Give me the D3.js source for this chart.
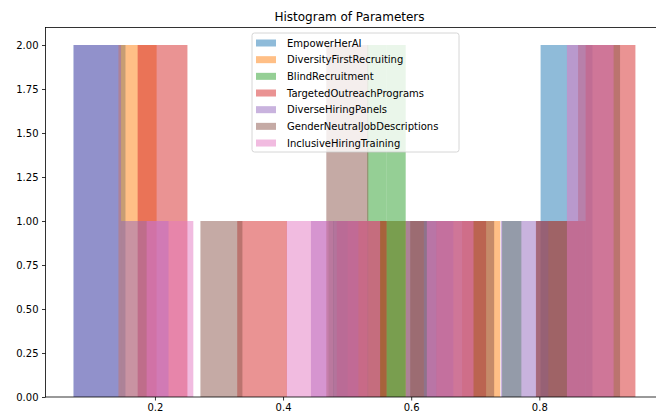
<!DOCTYPE html>
<html>
<head>
<meta charset="utf-8">
<script src="https://cdn.jsdelivr.net/npm/d3@7"></script>
<style>
  html, body { margin: 0; padding: 0; background: #fff; }
  svg { display: block; font-family: "DejaVu Sans", sans-serif; }
</style>
</head>
<body>
<svg id="chart" width="656" height="414"></svg>
<script>
// Parameter samples, one array per hiring initiative
const categories = [
  "EmpowerHerAI",
  "DiversityFirstRecruiting",
  "BlindRecruitment",
  "TargetedOutreachPrograms",
  "DiverseHiringPanels",
  "GenderNeutralJobDescriptions",
  "InclusiveHiringTraining"
];
const empowerHerAI = [0.073, 0.113, 0.518, 0.599, 0.842, 0.883];
const diversityFirstRecruiting = [0.143, 0.173, 0.531, 0.590, 0.739];
const blindRecruitment = [0.471, 0.543, 0.549, 0.573, 0.579, 0.772];
const targetedOutreachPrograms = [0.173, 0.212, 0.367, 0.522, 0.678, 0.833, 0.911, 0.950];
const diverseHiringPanels = [0.073, 0.112, 0.184, 0.480, 0.628, 0.814];
const genderNeutralJobDescriptions = [0.271, 0.486, 0.518, 0.633, 0.699, 0.828, 0.892, 0.926];
const inclusiveHiringTraining = [0.187, 0.446, 0.518, 0.663, 0.880, 0.916];

const seriesValues = [
  empowerHerAI, diversityFirstRecruiting, blindRecruitment, targetedOutreachPrograms,
  diverseHiringPanels, genderNeutralJobDescriptions, inclusiveHiringTraining
];
const colors = ["#1f77b4", "#ff7f0e", "#2ca02c", "#d62728", "#9467bd", "#8c564b", "#e377c2"];
const xTickValues = [0.2, 0.4, 0.6, 0.8];
const yTickValues = [0, 0.25, 0.5, 0.75, 1.0, 1.25, 1.5, 1.75, 2.0];
const binCount = 10;

const svg = d3.select("#chart");
const plot = { left: 45.5, top: 27.4, bottom: 397, width: 618 };

// x domain: data extent padded by 5% on each side
const allValues = seriesValues.flat();
const lo = d3.min(allValues), hi = d3.max(allValues);
const pad = (hi - lo) * 0.05;
const x = d3.scaleLinear().domain([lo - pad, hi + pad]).range([plot.left, plot.left + plot.width]);
const y = d3.scaleLinear().domain([0, 2.1]).range([plot.bottom, plot.top]);

// Ten equal-width bins spanning each series' own range
const histograms = seriesValues.map(vals => {
  const mn = d3.min(vals), mx = d3.max(vals);
  const edges = d3.range(1, binCount).map(i => mn + i * (mx - mn) / binCount);
  return d3.bin().domain([mn, mx]).thresholds(edges)(vals);
});

const barsLayer = svg.append("g");
histograms.forEach((bins, i) => {
  barsLayer.append("g")
    .attr("fill", colors[i])
    .attr("fill-opacity", 0.5)
    .selectAll("rect")
    .data(bins.filter(b => b.length > 0))
    .join("rect")
    .attr("x", b => x(b.x0))
    .attr("width", b => x(b.x1) - x(b.x0))
    .attr("y", b => y(b.length))
    .attr("height", b => y(0) - y(b.length));
});

// Axes
const xAxis = d3.axisBottom(x).tickValues(xTickValues).tickFormat(d3.format(".1f")).tickSize(3.5).tickPadding(3.5);
const yAxis = d3.axisLeft(y).tickValues(yTickValues).tickFormat(d3.format(".2f")).tickSize(3.5).tickPadding(3.5);

const gx = svg.append("g").attr("transform", `translate(0,${plot.bottom})`).call(xAxis);
const gy = svg.append("g").attr("transform", `translate(${plot.left},0)`).call(yAxis);
[gx, gy].forEach(g => {
  g.select(".domain").remove();
  g.selectAll("text").attr("font-size", 10).attr("fill", "#000").attr("font-family", "DejaVu Sans");
  g.selectAll("line").attr("stroke", "#000").attr("stroke-width", 0.8);
});

// Spines
const spines = svg.append("g").attr("stroke", "#000").attr("stroke-width", 0.8).attr("fill", "none");
spines.append("rect")
  .attr("x", plot.left).attr("y", plot.top)
  .attr("width", plot.width).attr("height", plot.bottom - plot.top);

// Title
svg.append("text")
  .attr("x", plot.left + plot.width / 2 - 5)
  .attr("y", plot.top - 6)
  .attr("text-anchor", "middle")
  .attr("font-size", 12)
  .attr("fill", "#000")
  .text("Histogram of Parameters");

// Legend
const legend = svg.append("g").attr("transform", "translate(252,33)");
legend.append("rect")
  .attr("width", 207).attr("height", 119)
  .attr("rx", 2.5)
  .attr("fill", "#fff").attr("fill-opacity", 0.8)
  .attr("stroke", "#cccccc").attr("stroke-width", 0.8);
const rowH = 16.67;
const items = legend.selectAll("g.item")
  .data(categories)
  .join("g")
  .attr("class", "item")
  .attr("transform", (d, i) => `translate(0,${10 + i * rowH})`);
items.append("rect")
  .attr("x", 4).attr("y", -3.5)
  .attr("width", 20).attr("height", 7)
  .attr("fill", (d, i) => colors[i])
  .attr("fill-opacity", 0.5);
items.append("text")
  .attr("x", 35).attr("y", 0)
  .attr("dy", "0.35em")
  .attr("font-size", 10)
  .attr("fill", "#000")
  .text(d => d);
</script>
</body>
</html>
